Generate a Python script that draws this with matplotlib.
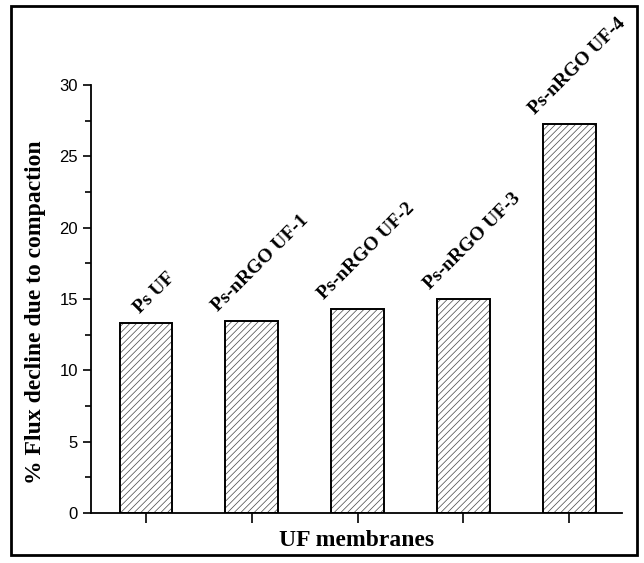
import numpy as np
import matplotlib
matplotlib.use("Agg")
import matplotlib.pyplot as plt
from matplotlib.patches import Rectangle
from matplotlib.ticker import MultipleLocator

# data
membranes = ["Ps UF", "Ps-nRGO UF-1", "Ps-nRGO UF-2", "Ps-nRGO UF-3", "Ps-nRGO UF-4"]
flux_decline = [13.3, 13.45, 14.3, 15.0, 27.25]
yticks = [0, 5, 10, 15, 20, 25, 30]

plt.rcParams["hatch.linewidth"] = 0.5

fig = plt.figure(figsize=(6.44, 5.63), dpi=100)
ax = fig.add_axes([91/644, 1 - 513/563, (622 - 91)/644, (513 - 85)/563])

pos = np.arange(1, len(membranes) + 1)
# hatch layer (grey lines) then black outline on top
ax.bar(pos, flux_decline, width=0.5, color="white", edgecolor="#444444",
       linewidth=0, hatch="/////", zorder=2)
ax.bar(pos, flux_decline, width=0.5, fill=False, edgecolor="black",
       linewidth=1.4, zorder=3)

for x, v, name in zip(pos, flux_decline, membranes):
    ax.text(x + 0.08, v + 0.45, name, rotation=45, ha="center", va="bottom",
            family="Liberation Serif", fontweight="bold", fontsize=14)

ax.set_xlim(0.48, 5.5)
ax.set_ylim(0, 30)
ax.set_xticks(pos)
ax.set_xticklabels([])
ax.set_yticks(yticks)
ax.yaxis.set_minor_locator(MultipleLocator(2.5))
for s in ["top", "right"]:
    ax.spines[s].set_visible(False)
for s in ["left", "bottom"]:
    ax.spines[s].set_linewidth(1.3)
ax.tick_params(axis="y", which="major", direction="out", length=6, width=1.2,
               labelsize=12)
ax.tick_params(axis="y", which="minor", direction="out", length=4, width=1.2)
ax.tick_params(axis="x", direction="out", length=7, width=1.2)
for lab in ax.get_yticklabels():
    lab.set_family("Liberation Sans")

ax.set_ylabel("% Flux decline due to compaction", family="Liberation Serif",
              fontweight="bold", fontsize=17)
ax.yaxis.set_label_coords(-0.085, 0.47)
ax.set_xlabel("UF membranes", family="Liberation Serif",
              fontweight="bold", fontsize=17, labelpad=2)

# frame around the whole picture
fig.patches.append(Rectangle((11/644, 1 - 555/563), 626/644, 549/563,
                             transform=fig.transFigure, fill=False,
                             edgecolor="black", linewidth=2))

fig.savefig("out.png", dpi=100)
